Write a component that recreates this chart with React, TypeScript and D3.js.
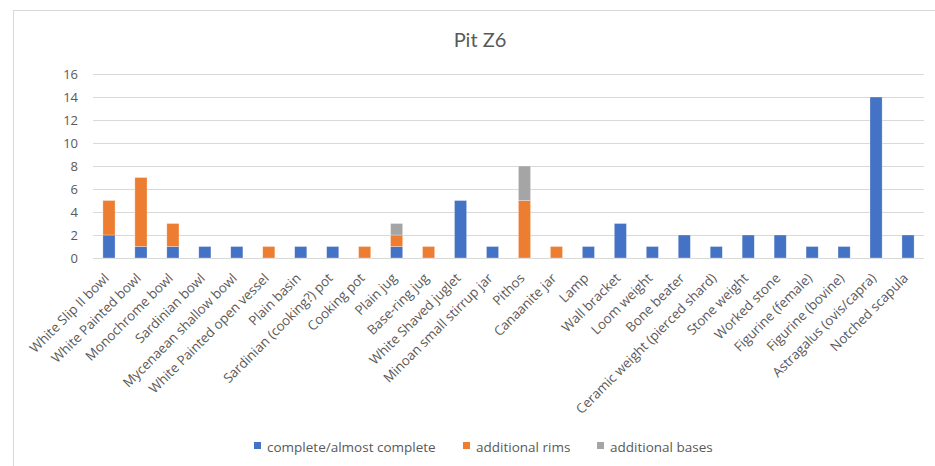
import React from "react";
import * as d3 from "d3";

const categories = [
  "White Slip II bowl",
  "White Painted bowl",
  "Monochrome bowl",
  "Sardinian bowl",
  "Mycenaean shallow bowl",
  "White Painted open vessel",
  "Plain basin",
  "Sardinian (cooking?) pot",
  "Cooking pot",
  "Plain jug",
  "Base-ring jug",
  "White Shaved juglet",
  "Minoan small stirrup jar",
  "Pithos",
  "Canaanite jar",
  "Lamp",
  "Wall bracket",
  "Loom weight",
  "Bone beater",
  "Ceramic weight (pierced shard)",
  "Stone weight",
  "Worked stone",
  "Figurine (female)",
  "Figurine (bovine)",
  "Astragalus (ovis/capra)",
  "Notched scapula",
];
const complete = [2, 1, 1, 1, 1, 0, 1, 1, 0, 1, 0, 5, 1, 0, 0, 1, 3, 1, 2, 1, 2, 2, 1, 1, 14, 2];
const rims = [3, 6, 2, 0, 0, 1, 0, 0, 1, 1, 1, 0, 0, 5, 1, 0, 0, 0, 0, 0, 0, 0, 0, 0, 0, 0];
const bases = [0, 0, 0, 0, 0, 0, 0, 0, 0, 1, 0, 0, 0, 3, 0, 0, 0, 0, 0, 0, 0, 0, 0, 0, 0, 0];
const seriesNames = ["complete/almost complete", "additional rims", "additional bases"];
const colors = ["#4472C4", "#ED7D31", "#A5A5A5"];
const yTicks = [0, 2, 4, 6, 8, 10, 12, 14, 16];

const W = 935;
const H = 466;
const FONT = "'Open Sans', Lato, sans-serif";
const FONT2 = "Lato, 'Open Sans', sans-serif";

export default function App() {
  const x = d3.scaleBand<string>().domain(categories).range([93, 924]).paddingInner(0.62).paddingOuter(0.31);
  const y = d3.scaleLinear().domain([0, 16]).range([258, 74]);
  const rows = categories.map((c, i) => ({ cat: c, s0: complete[i], s1: rims[i], s2: bases[i] }));
  const stack = d3.stack<any>().keys(["s0", "s1", "s2"])(rows);

  const legendX = [254, 463, 597];

  return (
    <svg width={W} height={H} style={{ position: "absolute", left: 0, top: 0, background: "#fff" }}>
      <rect x={0} y={0} width={W} height={H} fill="#fff" />
      <line x1={13} y1={10.5} x2={W} y2={10.5} stroke="#d9d9d9" />
      <line x1={13.5} y1={10} x2={13.5} y2={H} stroke="#d9d9d9" />
      <text x={480} y={47} textAnchor="middle" fontFamily={FONT2} fontSize={20} fill="#595959">
        Pit Z6
      </text>
      {yTicks.map((t) => (
        <g key={t}>
          <line x1={93} x2={924} y1={Math.round(y(t)) + 0.5} y2={Math.round(y(t)) + 0.5} stroke="#d9d9d9" strokeWidth={1} />
          <text x={78} y={y(t) + 4.5} textAnchor="end" fontFamily={FONT} fontSize={13} fill="#595959">
            {t}
          </text>
        </g>
      ))}
      {stack.map((layer, si) => (
        <g key={si} fill={colors[si]}>
          {layer.map((d, i) =>
            d[1] - d[0] > 0 ? (
              <rect
                key={i}
                x={x(categories[i])!}
                width={x.bandwidth()}
                y={y(d[1])}
                height={y(d[0]) - y(d[1])}
                stroke="#fff"
                strokeOpacity={0.5}
                strokeWidth={0.6}
              />
            ) : null
          )}
        </g>
      ))}
      {categories.map((c) => {
        const cx = x(c)! + x.bandwidth() / 2 + 1;
        const cy = 279;
        return (
          <text
            key={c}
            x={cx}
            y={cy}
            transform={`rotate(-45 ${cx} ${cy})`}
            textAnchor="end"
            fontFamily={FONT}
            fontSize={13.3}
            fill="#595959"
          >
            {c}
          </text>
        );
      })}
      {seriesNames.map((n, i) => (
        <g key={n}>
          <rect x={legendX[i]} y={442} width={7} height={7} fill={colors[i]} />
          <text x={legendX[i] + 13} y={451.5} fontFamily={FONT} fontSize={13.5} fill="#595959">
            {n}
          </text>
        </g>
      ))}
    </svg>
  );
}
